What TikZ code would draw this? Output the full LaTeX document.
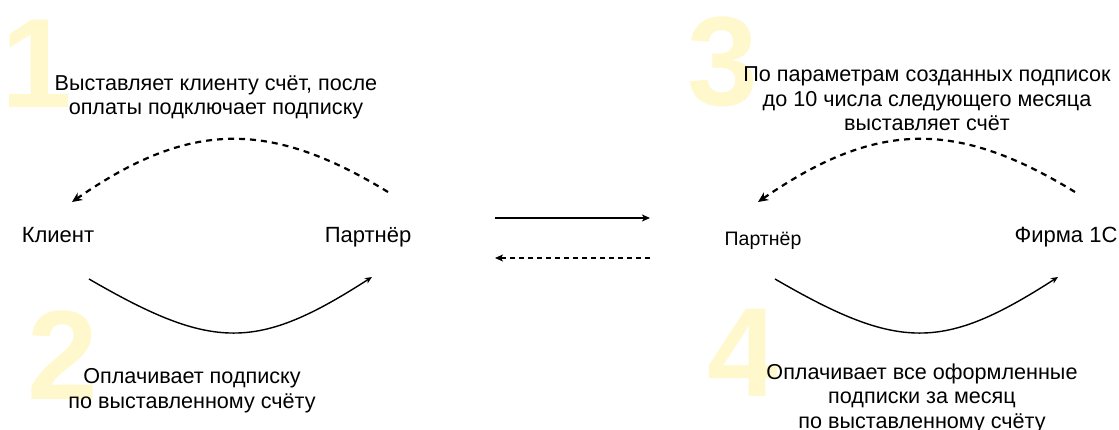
\documentclass[tikz,border=0pt]{standalone}
\usepackage{fontspec}
\setmainfont{Liberation Sans}
\usetikzlibrary{arrows.meta}
\definecolor{digitc}{RGB}{255,248,204}
\tikzset{
  digit/.style={font=\bfseries\fontsize{127}{127}\selectfont, text=digitc, inner sep=0pt, anchor=base},
  note/.style={font=\fontsize{21.6}{24.5}\selectfont, align=center, inner sep=0pt, anchor=base},
  actor/.style={font=\fontsize{22}{26}\selectfont, inner sep=0pt, anchor=base},
  actorsmall/.style={font=\fontsize{19.5}{23}\selectfont, inner sep=0pt, anchor=base},
  flow/.style={line width=1.4pt, -{Stealth[length=7pt,width=6pt,inset=2pt]}},
  backflow/.style={line width=2.2pt, dash pattern=on 6pt off 5pt, -{Stealth[length=10pt,width=9pt,inset=3pt]}},
  midflow/.style={line width=1.4pt, -{Stealth[length=8pt,width=7pt,inset=2pt]}},
  middash/.style={line width=1.4pt, dash pattern=on 5pt off 4pt, -{Stealth[length=8pt,width=7pt,inset=2pt]}}
}
\begin{document}
\begin{tikzpicture}[x=1pt,y=-1pt]
\useasboundingbox[fill=white] (0,0) rectangle (1119,430);
% digits
\node[digit] (d1) at (37,108) {1};
\node[digit] (d2) at (63,399) {2};
\node[digit] (d3) at (723,106) {3};
\node[digit] (d4) at (743,396) {4};
% texts (anchor = baseline of last line)
\node[note] (t1) at (216,115) {Выставляет клиенту счёт, после\\оплаты подключает подписку};
\node[note] (t2) at (192,408) {Оплачивает подписку\\по выставленному счёту};
\node[note] (t3) at (927,131) {По параметрам созданных подписок\\до 10 числа следующего месяца\\выставляет счёт};
\node[note] (t4) at (922,428) {Оплачивает все оформленные\\подписки за месяц\\по выставленному счёту};
% actors
\node[actor] (client) at (58,243) {Клиент};
\node[actor] (partnerL) at (368,243) {Партнёр};
\node[actorsmall] (partnerR) at (763,246) {Партнёр};
\node[actor] (firm) at (1066,243) {Фирма 1С};
% connector ends
\coordinate (a1s) at (388,192); \coordinate (a1e) at (72,202);
\coordinate (a2s) at (89,279);  \coordinate (a2e) at (372,277);
\coordinate (a3s) at (1075,192); \coordinate (a3e) at (758,202);
\coordinate (a4s) at (775,279); \coordinate (a4e) at (1058,277);
\coordinate (m1s) at (495,218); \coordinate (m1e) at (650,218);
\coordinate (m2s) at (650,258); \coordinate (m2e) at (495,258);
% connectors
\draw[backflow] (a1s) .. controls (270,120) and (190,120) .. (a1e);
\draw[flow] (a2s) .. controls (213,351) and (257,351) .. (a2e);
\draw[backflow] (a3s) .. controls (957,120) and (877,120) .. (a3e);
\draw[flow] (a4s) .. controls (899,351) and (943,351) .. (a4e);
\draw[midflow] (m1s) -- (m1e);
\draw[middash] (m2s) -- (m2e);
\end{tikzpicture}
\end{document}
